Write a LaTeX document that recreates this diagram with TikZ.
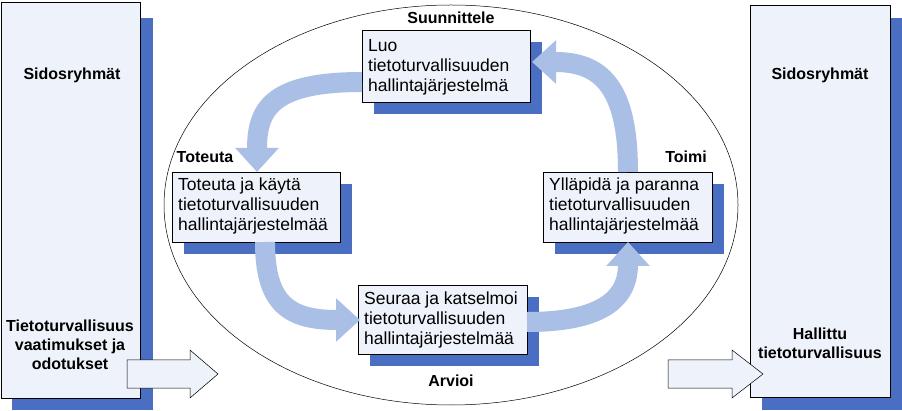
\documentclass[tikz,border=0pt]{standalone}
\usepackage{fontspec}
\setmainfont{Liberation Sans}
\usetikzlibrary{arrows.meta}
\definecolor{shad}{HTML}{4A6FC2}
\definecolor{boxf}{HTML}{EEF2FA}
\definecolor{arr}{HTML}{A9BFE5}
\begin{document}
\begin{tikzpicture}[x=1pt,y=-1pt,
  sbox/.style={draw=black,fill=boxf,line width=0.5pt},
  shd/.style={fill=shad},
  txt/.style={align=left,anchor=north west,font=\fontsize{17.5}{20}\selectfont,inner sep=0pt},
  lbl/.style={font=\bfseries\fontsize{16}{19}\selectfont,align=center},
  flow/.style={arr,line width=20pt,-{Triangle[width=42pt,length=24pt]}},
  blk/.style={draw=black,fill=boxf,line width=0.5pt}]
\useasboundingbox (0,0) rectangle (902,411);
% side boxes
\fill[shd] (12,18) rectangle (153,410);
\draw[sbox] (1,2) rectangle (140,398);
\fill[shd] (762,18) rectangle (902,410);
\draw[sbox] (750,5) rectangle (890,397);
\node[lbl] (s1) at (72,75) {Sidosryhmät};
\node[lbl] (s2) at (820,75) {Sidosryhmät};
\node[lbl] (req) at (70,345) {Tietoturvallisuus\\vaatimukset ja\\odotukset};
\node[lbl] (hal) at (820,343) {Hallittu\\tietoturvallisuus};
% ellipse
\draw[fill=white,line width=0.5pt] (451,205) ellipse (287 and 200);
% block arrows
\draw[blk] (127,360) -- (190,360) -- (190,350) -- (218,374) -- (190,398) -- (190,388) -- (127,388) -- cycle;
\draw[blk] (668,360) -- (732,360) -- (732,350) -- (763,374) -- (732,398) -- (732,388) -- (668,388) -- cycle;
% inner boxes with shadows
\fill[shd] (374,42) rectangle (542,114);
\draw[sbox] (362,30) rectangle (530,102);
\fill[shd] (184,184) rectangle (352,254);
\draw[sbox] (172,172) rectangle (340,242);
\fill[shd] (555,184) rectangle (724,254);
\draw[sbox] (543,172) rectangle (712,242);
\fill[shd] (370,297) rectangle (539,366);
\draw[sbox] (358,285) rectangle (527,354);
\node[txt] (luo) at (368,39) {Luo\\tietoturvallisuuden\\hallintajärjestelmä};
\node[txt] (tot) at (178,178) {Toteuta ja käytä\\tietoturvallisuuden\\hallintajärjestelmää};
\node[txt] (yll) at (549,178) {Ylläpidä ja paranna\\tietoturvallisuuden\\hallintajärjestelmää};
\node[txt] (seu) at (364,292) {Seuraa ja katselmoi\\tietoturvallisuuden\\hallintajärjestelmää};
% phase labels
\node[lbl] (p1) at (451,18) {Suunnittele};
\node[lbl] (p2) at (205,157) {Toteuta};
\node[lbl] (p3) at (686,157) {Toimi};
\node[lbl] (p4) at (451,381) {Arvioi};
% flow arrows
\draw[flow] (362,82) .. controls (270,82) and (257,110) .. (257,172);
\draw[flow] (265,242) .. controls (265,305) and (290,320) .. (360,320);
\draw[flow] (527,322) .. controls (600,322) and (628,300) .. (628,242);
\draw[flow] (628,172) .. controls (628,85) and (600,62) .. (532,62);
\end{tikzpicture}
\end{document}
